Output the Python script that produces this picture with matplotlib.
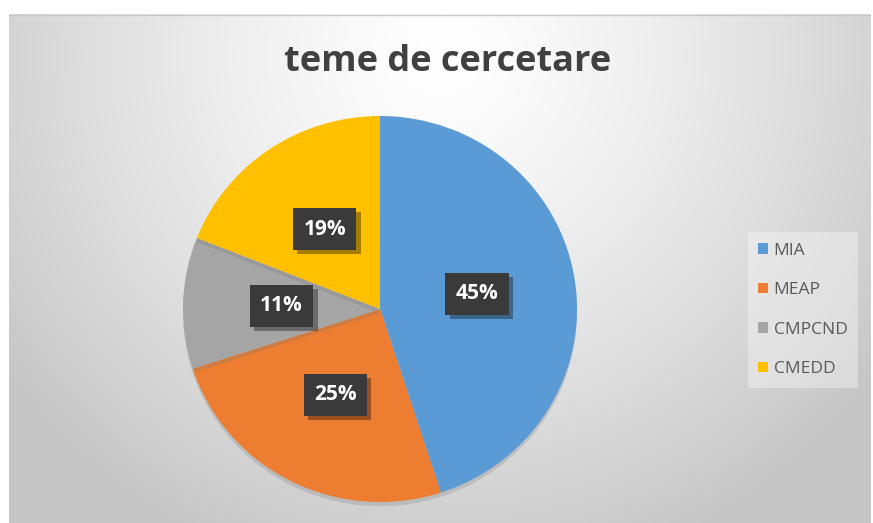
import numpy as np
import matplotlib
matplotlib.use("Agg")
import matplotlib.pyplot as plt
from matplotlib.patches import Patch
import matplotlib.patheffects as pe

categories = ["MIA", "MEAP", "CMPCND", "CMEDD"]
values = [45, 25, 11, 19]
colors = ["#5B9BD5", "#ED7D31", "#A5A5A5", "#FFC000"]
title = "teme de cercetare"

W, H = 873, 523
fig = plt.figure(figsize=(W / 100, H / 100), dpi=100)
fig.patch.set_facecolor("white")

# background with radial gradient
x0, y0, x1, y1 = 9, 14, 871, 523
bg = fig.add_axes([x0 / W, 1 - y1 / H, (x1 - x0) / W, (y1 - y0) / H])
ny, nx = 300, 500
yy, xx = np.mgrid[0:ny, 0:nx]
cx, cy = 0.50 * nx, 0.08 * ny
d = np.sqrt(((xx - cx) / (nx * 0.62)) ** 2 + ((yy - cy) / (ny * 1.05)) ** 2)
d = np.clip(d, 0, 1)
val = 1.0 - 0.22 * d ** 1.3
img = np.dstack([val, val, val])
bg.imshow(img, aspect="auto", extent=[0, 1, 0, 1], origin="upper")
bg.set_xlim(0, 1); bg.set_ylim(0, 1)
for s in bg.spines.values():
    s.set_visible(False)
bg.set_xticks([]); bg.set_yticks([])
bg.plot([0, 1], [0.999, 0.999], color="#c8c8c8", lw=1)

# pie
pcx, pcy, rx, ry = 380, 309, 197, 193
ax = fig.add_axes([(pcx - rx) / W, 1 - (pcy + ry) / H, 2 * rx / W, 2 * ry / H])
ax.set_facecolor("none")
wedges, texts, autotexts = ax.pie(
    values, colors=colors, startangle=90, counterclock=False,
    autopct="%1.0f%%", pctdistance=0.5,
    wedgeprops=dict(linewidth=0),
    textprops=dict(color="white", fontsize=15, fontweight="bold",
                   family=["Open Sans", "DejaVu Sans"]),
)
for w in wedges:
    w.set_path_effects([pe.SimplePatchShadow(offset=(0, -3), shadow_rgbFace="#777777", alpha=0.25), pe.Normal()])
for t in autotexts:
    t.set_bbox(dict(boxstyle="square,pad=0.5", facecolor="#3a3a3a", edgecolor="none"))
    t.get_bbox_patch().set_path_effects([
        pe.SimplePatchShadow(offset=(3, -3), shadow_rgbFace="black", alpha=0.35),
        pe.Normal()])
ax.set_xlim(-1, 1); ax.set_ylim(-1, 1)
ax.set_aspect("auto")

fig.text(448 / W, 1 - 62 / H, title, ha="center", va="center",
         fontsize=26, fontweight="bold", color="#404040",
         family=["Open Sans", "DejaVu Sans"])

handles = [Patch(facecolor=c, edgecolor="none") for c in colors]
leg = fig.legend(handles, categories, loc="center left",
                 bbox_to_anchor=(739 / W, 1 - 310 / H),
                 frameon=True, fancybox=False, framealpha=0.35,
                 facecolor="white", edgecolor="none",
                 handlelength=0.55, handleheight=0.55, handletextpad=0.35,
                 labelspacing=1.35, borderpad=0.6,
                 prop=dict(family=["Open Sans", "DejaVu Sans"], size=12.5))
for t in leg.get_texts():
    t.set_color("#595959")

fig.savefig("out.png", dpi=100)
